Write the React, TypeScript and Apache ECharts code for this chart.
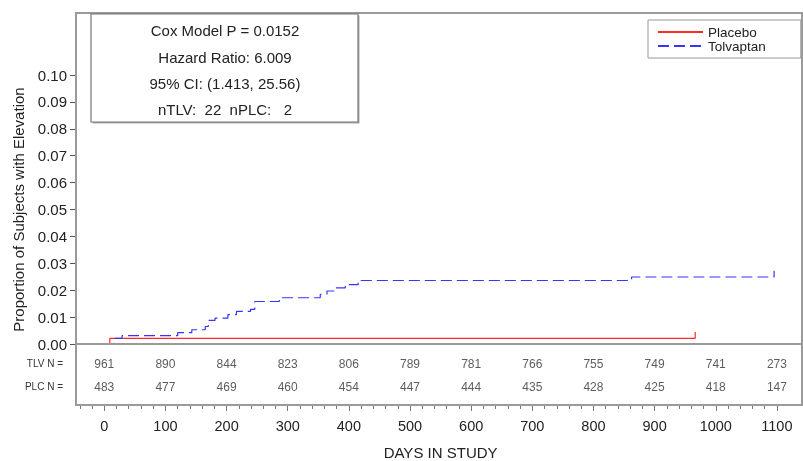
import React, { useEffect, useRef } from 'react';
import * as echarts from 'echarts';

const FONT = '"Liberation Sans", Arial, Helvetica, sans-serif';

// Kaplan-Meier style cumulative proportions (value after each step)
const placeboDays = [0, 9, 966];
const placeboValues = [0, 0.0021, 0.0045];
const tolvaptanDays = [0, 16, 29, 120, 143, 165, 170, 181, 202, 216, 239, 246, 286, 353, 364, 379, 394, 415, 420, 862, 1095];
const tolvaptanValues = [0, 0.0021, 0.0031, 0.0042, 0.0053, 0.0065, 0.0088, 0.0096, 0.0109, 0.0121, 0.0129, 0.0158, 0.0172, 0.0185, 0.0197, 0.0209, 0.0221, 0.0228, 0.0236, 0.0249, 0.0272];

// Numbers at risk
const riskDays = [0, 100, 200, 300, 400, 500, 600, 700, 800, 900, 1000, 1100];
const tlvAtRisk = [961, 890, 844, 823, 806, 789, 781, 766, 755, 749, 741, 273];
const plcAtRisk = [483, 477, 469, 460, 454, 447, 444, 435, 428, 425, 418, 147];
const riskRows = ['TLV N =', 'PLC N ='];

const seriesNames = ['Placebo', 'Tolvaptan'];
const statsLines = ['Cox Model P = 0.0152', 'Hazard Ratio: 6.009', '95% CI: (1.413, 25.56)', 'nTLV:  22  nPLC:   2'];
const statsY = [30.5, 57, 83.5, 109];

export default function App() {
  const ref = useRef<HTMLDivElement>(null);
  useEffect(() => {
    document.body.style.margin = '0';
    if (!ref.current) return;
    const chart = echarts.init(ref.current, undefined, { renderer: 'svg' });
    const gray = '#9a9a9a';
    const option: any = {
      animation: false,
      textStyle: { fontFamily: FONT },
      grid: [
        { left: 76, right: 1, top: 75, bottom: 117 },
        { left: 79.8, right: 26.1, top: 352, bottom: 63 },
        { left: 104.3, right: 26.1, top: 352, bottom: 56 },
      ],
      xAxis: [
        {
          gridIndex: 0, type: 'value', min: -46.3, max: 1140.6,
          axisLine: { show: false, onZero: false }, axisTick: { show: false }, axisLabel: { show: false }, splitLine: { show: false },
        },
        {
          gridIndex: 1, type: 'value', min: -40, max: 1100, interval: 20, offset: 7,
          axisLine: { show: false, onZero: false },
          axisTick: { show: true, length: 4, lineStyle: { color: '#777' } },
          axisLabel: { show: false }, splitLine: { show: false },
        },
        {
          gridIndex: 2, type: 'value', min: 0, max: 1100, interval: 100,
          axisLine: { show: false, onZero: false },
          axisTick: { show: true, length: 6, lineStyle: { color: '#777' } },
          axisLabel: { fontSize: 14.5, color: '#222', margin: 13, fontFamily: FONT, formatter: (v: number) => String(v) },
          splitLine: { show: false },
          name: 'DAYS IN STUDY', nameLocation: 'middle', nameGap: 40,
          nameTextStyle: { fontSize: 15, color: '#222', fontFamily: FONT },
        },
      ],
      yAxis: [
        {
          gridIndex: 0, type: 'value', position: 'left', min: 0, max: 0.1, interval: 0.01,
          axisLine: { show: true, onZero: false, lineStyle: { color: gray, width: 2 } },
          axisTick: { show: true, inside: false, length: 6, lineStyle: { color: '#555', width: 1 } },
          axisLabel: { fontSize: 15, color: '#222', margin: 9, fontFamily: FONT, formatter: (v: number) => v.toFixed(2) },
          splitLine: { show: false },
          name: 'Proportion of Subjects with Elevation', nameLocation: 'middle', nameGap: 50,
          nameTextStyle: { fontSize: 15, color: '#222', fontFamily: FONT },
        },
        {
          gridIndex: 1, type: 'category', data: riskRows, inverse: true, offset: 3.8,
          axisLine: { show: false, onZero: false }, axisTick: { show: false },
          axisLabel: { fontSize: 10, color: '#333', margin: 13, fontFamily: FONT },
          splitLine: { show: false },
        },
        { gridIndex: 2, type: 'value', show: false },
      ],
      legend: {
        data: seriesNames, orient: 'vertical', left: 648, top: 20,
        itemWidth: 45, itemHeight: 10, itemGap: 0,
        itemStyle: { opacity: 0 },
        padding: [5, 35, 5, 9], borderColor: '#999', borderWidth: 1, backgroundColor: '#fff',
        textStyle: { fontSize: 13.5, color: '#222', lineHeight: 13.5, fontFamily: FONT },
      },
      series: [
        {
          name: seriesNames[0], type: 'line', xAxisIndex: 0, yAxisIndex: 0, step: 'end', symbol: 'none',
          data: placeboDays.map((d, i) => [d, placeboValues[i]]),
          lineStyle: { color: '#ff2a2a', width: 1.2 }, itemStyle: { color: '#ff2a2a' },
        },
        {
          name: seriesNames[1], type: 'line', xAxisIndex: 0, yAxisIndex: 0, step: 'end', symbol: 'none',
          data: tolvaptanDays.map((d, i) => [d, tolvaptanValues[i]]),
          lineStyle: { color: '#3535ff', width: 1.2, type: [11, 5] }, itemStyle: { color: '#3535ff' },
        },
        {
          type: 'scatter', xAxisIndex: 1, yAxisIndex: 1, symbolSize: 1, silent: true,
          data: riskDays.map((d, i) => [d, riskRows[0], tlvAtRisk[i]]),
          itemStyle: { color: 'rgba(0,0,0,0)' },
          label: { show: true, position: 'inside', formatter: (p: any) => String(p.data[2]), fontSize: 12, color: '#333', fontFamily: FONT },
        },
        {
          type: 'scatter', xAxisIndex: 1, yAxisIndex: 1, symbolSize: 1, silent: true,
          data: riskDays.map((d, i) => [d, riskRows[1], plcAtRisk[i]]),
          itemStyle: { color: 'rgba(0,0,0,0)' },
          label: { show: true, position: 'inside', formatter: (p: any) => String(p.data[2]), fontSize: 12, color: '#333', fontFamily: FONT },
        },
      ],
      graphic: [
        { type: 'rect', z: 10, silent: true, shape: { x: 76, y: 13, width: 726, height: 392 }, style: { fill: 'none', stroke: gray, lineWidth: 2 } },
        { type: 'line', z: 10, silent: true, shape: { x1: 76, y1: 344, x2: 802, y2: 344 }, style: { stroke: gray, lineWidth: 2 } },
        { type: 'rect', z: 11, silent: true, shape: { x: 92.5, y: 15.5, width: 267, height: 108 }, style: { fill: '#aaa' } },
        { type: 'rect', z: 12, silent: true, shape: { x: 91, y: 14, width: 267, height: 108 }, style: { fill: '#fff', stroke: '#777', lineWidth: 1.2 } },
        ...statsLines.map((t, i) => ({
          type: 'text', z: 13, silent: true, x: 225, y: statsY[i],
          style: { text: t, fontSize: 15, fill: '#222', align: 'center', verticalAlign: 'middle', fontFamily: FONT },
        })),
      ],
    };
    chart.setOption(option);
    return () => chart.dispose();
  }, []);
  return <div ref={ref} style={{ width: 803, height: 461, position: 'fixed', left: 0, top: 0 }} />;
}
